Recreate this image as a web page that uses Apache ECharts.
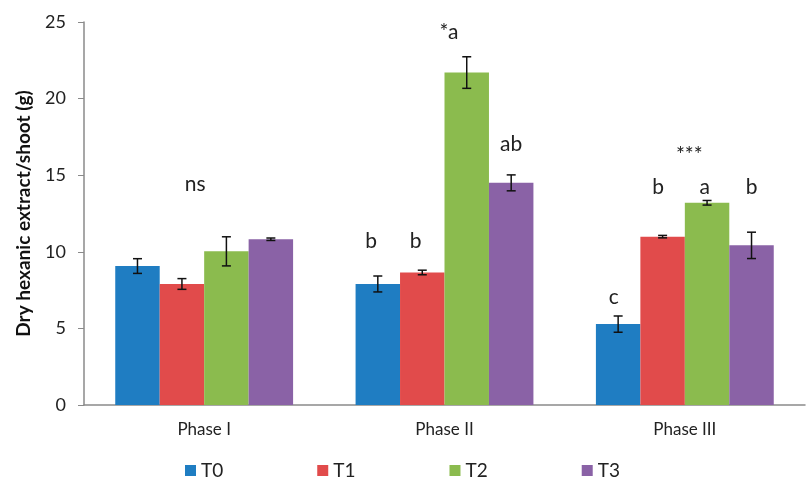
<!DOCTYPE html>
<html>
<head>
<meta charset="utf-8">
<script src="https://cdn.jsdelivr.net/npm/echarts@6/dist/echarts.min.js"></script>
<style>
  html, body { margin: 0; padding: 0; background: #fff; }
  #chart { width: 809px; height: 479px; }
</style>
</head>
<body>
<div id="chart"></div>
<script>
// categories and treatments
var phases = ['Phase I', 'Phase II', 'Phase III']
var treatments = ['T0', 'T1', 'T2', 'T3']

// means per treatment (Phase I, II, III)
var t0 = [9.07, 7.9, 5.28]
var t1 = [7.9, 8.65, 10.99]
var t2 = [10.03, 21.7, 13.2]
var t3 = [10.82, 14.5, 10.42]

// standard errors
var t0Err = [0.48, 0.52, 0.53]
var t1Err = [0.35, 0.15, 0.08]
var t2Err = [0.95, 1.03, 0.15]
var t3Err = [0.08, 0.52, 0.86]

// significance annotations: [phase index, bar position, value height, text]
var annotPhase = [0, 1, 1, 1, 1, 2, 2, 2, 2, 2]
var annotBar = [1.3, -0.15, 0.85, 1.6, 3, -0.1, 0.9, 1.95, 3, 1.6]
var annotValue = [14.4, 10.7, 10.7, 24.3, 17.0, 7.05, 14.2, 14.2, 14.2, 16.3]
var annotText = ['ns', 'b', 'b', '*a', 'ab', 'c', 'b', 'a', 'b', '***']

var yTicks = [0, 5, 10, 15, 20, 25]

var colors = ['#1f7dc2', '#e14b4b', '#8bbb4e', '#8a62a6']
var means = [t0, t1, t2, t3]
var errs = [t0Err, t1Err, t2Err, t3Err]
var catGap = 0.26
var fontFam = 'Lato, "Open Sans", sans-serif'

var chart = echarts.init(document.getElementById('chart'))

function barOffset(api, pos) {
  var band = api.size([1, 0])[0]
  var bw = band * (1 - catGap) / treatments.length
  return (pos - (treatments.length - 1) / 2) * bw
}

// error bar data: [phase, treatment, mean, err]
var errData = []
means.forEach(function (arr, i) {
  arr.forEach(function (v, p) {
    errData.push([p, i, v, errs[i][p]])
  })
})

var annotData = annotText.map(function (t, k) {
  return [annotPhase[k], annotBar[k], annotValue[k]]
})

var series = treatments.map(function (name, i) {
  return {
    name: name,
    type: 'bar',
    data: means[i],
    barGap: '0%',
    barCategoryGap: (catGap * 100) + '%',
    itemStyle: { color: colors[i] },
    emphasis: { disabled: true }
  }
})

// error bars
series.push({
  type: 'custom',
  z: 5,
  data: errData,
  renderItem: function (params, api) {
    var p = api.value(0)
    var off = barOffset(api, api.value(1))
    var m = api.value(2)
    var e = api.value(3)
    var top = api.coord([p, m + e])
    var bot = api.coord([p, m - e])
    var x = top[0] + off
    var cap = 4.5
    var st = { stroke: '#111', lineWidth: 1.5 }
    return {
      type: 'group',
      children: [
        { type: 'line', shape: { x1: x, y1: top[1], x2: x, y2: bot[1] }, style: st },
        { type: 'line', shape: { x1: x - cap, y1: top[1], x2: x + cap, y2: top[1] }, style: st },
        { type: 'line', shape: { x1: x - cap, y1: bot[1], x2: x + cap, y2: bot[1] }, style: st }
      ]
    }
  }
})

// letters
series.push({
  type: 'custom',
  z: 6,
  data: annotData,
  renderItem: function (params, api) {
    var p = api.value(0)
    var off = barOffset(api, api.value(1))
    var pt = api.coord([p, api.value(2)])
    return {
      type: 'text',
      style: {
        x: pt[0] + off,
        y: pt[1],
        text: annotText[params.dataIndex],
        fill: '#222',
        font: '21px ' + fontFam,
        align: 'center',
        verticalAlign: 'middle'
      }
    }
  }
})

var option = {
  animation: false,
  grid: { left: 84, right: 4, top: 22, bottom: 74, containLabel: false },
  legend: {
    data: treatments,
    left: 180,
    top: 456,
    itemWidth: 11,
    itemHeight: 11,
    itemGap: 94,
    icon: 'rect',
    textStyle: { fontSize: 19, color: '#222', fontFamily: fontFam }
  },
  xAxis: {
    type: 'category',
    data: phases,
    axisLine: { lineStyle: { color: '#8a8a8a', width: 1.5 } },
    axisTick: { show: false },
    axisLabel: { margin: 16, fontSize: 17, color: '#222', fontFamily: fontFam }
  },
  yAxis: {
    type: 'value',
    min: yTicks[0],
    max: yTicks[yTicks.length - 1],
    interval: 5,
    name: 'Dry hexanic extract/shoot (g)',
    nameLocation: 'middle',
    nameRotate: 90,
    nameGap: 51,
    nameTextStyle: { fontSize: 19, fontWeight: 'bold', color: '#111', fontFamily: fontFam },
    axisLine: { show: true, lineStyle: { color: '#8a8a8a', width: 1.5 } },
    axisTick: { show: true, inside: false, length: 6, lineStyle: { color: '#8a8a8a' } },
    splitLine: { show: false },
    axisLabel: { margin: 18, fontSize: 18, color: '#222', fontFamily: fontFam }
  },
  series: series
}

chart.setOption(option)
</script>
</body>
</html>
